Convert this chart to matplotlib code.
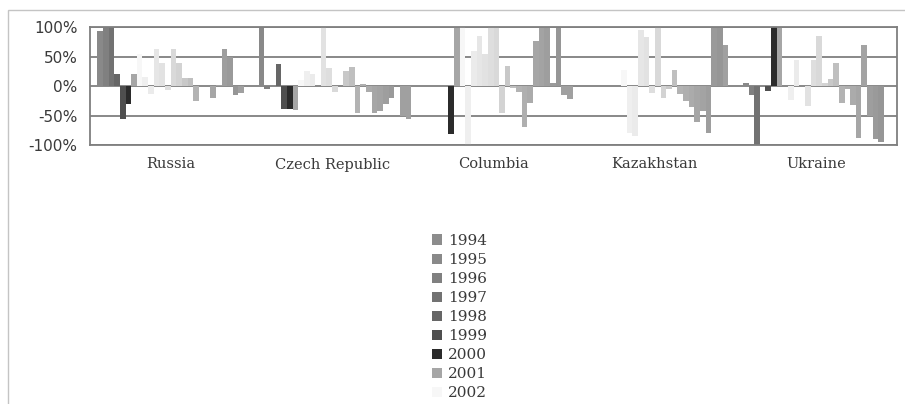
import numpy as np
import matplotlib
matplotlib.use("Agg")
import matplotlib.pyplot as plt
from matplotlib.patches import Rectangle, Patch

# ---------------- data ----------------
countries = ["Russia", "Czech Republic", "Columbia", "Kazakhstan", "Ukraine"]
years = ["1994", "1995", "1996", "1997", "1998", "1999", "2000", "2001", "2002",
         "2003", "2004", "2005", "2006", "2007", "2008", "2009", "2010", "2011",
         "2012", "2013", "2014", "2015", "2016", "2017", "2018", "2019", "2020", "2021"]

# values in percent, one per year (same order as `years`)
russia     = [0, 93, 100, 100, 20, -55, -30, 20, 55, 15, -14, 63, 40, -6, 63, 40,
              14, 14, -25, 0, 0, -20, 2, 63, 50, -15, -12, 0]
czech      = [0, 100, -5, 0, 37, -38, -38, -40, 10, 25, 20, 0, 100, 30, -10, 0,
              25, 33, -45, 3, -10, -45, -42, -30, -20, 0, -50, -55]
columbia   = [0, 0, 0, 0, 0, 0, -82, 100, 100, -100, 60, 85, 55, 100, 100, -45,
              35, -3, -10, -70, -28, 76, 100, 100, 5, 100, -15, -22]
kazakhstan = [0, 0, 0, 0, 0, 0, 0, 0, 28, -80, -85, 95, 84, -11, 100, -20,
              -5, 28, -14, -25, -35, -61, -42, -80, 100, 100, 70, 0]
ukraine    = [0, 5, -15, -100, 0, -8, 100, 100, 0, -23, 45, 0, -34, 45, 85, 5,
              12, 40, -28, -5, -32, -88, 70, -50, -90, -95, 0, 0]

# legend entries visible in the reference (the rest falls below the picture)
legend_years = years[:9]

# ---------------- style ----------------
colors = ["#8c8c8c", "#898989", "#808080", "#727272", "#666666", "#4f4f4f", "#2b2b2b",
          "#a6a6a6", "#f7f7f7", "#efefef", "#ebebeb", "#e6e6e6", "#e2e2e2", "#dedede",
          "#d9d9d9", "#d3d3d3", "#c8c8c8", "#bfbfbf", "#b3b3b3", "#afafaf", "#ababab",
          "#a6a6a6", "#a3a3a3", "#9e9e9e", "#9a9a9a", "#969696", "#a0a0a0", "#a0a0a0"]

W, H = 905, 404
fig = plt.figure(figsize=(W / 100, H / 100), dpi=100)
fig.patch.set_facecolor("white")

# chart-area border (light grey), cut off at right and bottom
fig.patches.append(Rectangle((8 / W, -0.2), 1.2, 1.2 - 10 / H,
                             transform=fig.transFigure, fill=False,
                             edgecolor="#c4c4c4", linewidth=1.0, clip_on=False))

ax = fig.add_axes([90 / W, 1 - 145 / H, 807 / W, (145 - 27.3) / H])

data = np.array([russia, czech, columbia, kazakhstan, ukraine], dtype=float) / 100.0
n_series = len(years)
x = np.arange(len(countries))
bw = 0.98 / n_series

grid_c = "#7f7f7f"
for yv in [-1, -0.5, 0, 0.5, 1]:
    ax.axhline(yv, color=grid_c, linewidth=1.3, zorder=1)

handles = []
for i in range(n_series):
    ax.bar(x + (i - (n_series - 1) / 2) * bw, data[:, i], width=bw,
           color=colors[i], linewidth=0, zorder=2)
    handles.append(Patch(facecolor=colors[i], edgecolor="none"))

ax.set_xlim(-0.5, len(countries) - 0.5)
ax.set_ylim(-1, 1)
ax.set_yticks([-1, -0.5, 0, 0.5, 1])
ax.set_yticklabels(["-100%", "-50%", "0%", "50%", "100%"])
ax.set_xticks(x)
ax.set_xticklabels(countries, family="DejaVu Serif", fontsize=10.5, color="#3a3a3a")
ax.tick_params(axis="y", length=0, pad=9, labelsize=11, labelcolor="#3a3a3a")
ax.tick_params(axis="x", length=0, pad=9)
for s in ax.spines.values():
    s.set_color(grid_c)
    s.set_linewidth(1.3)

n_leg = len(legend_years)
fig.legend(handles[:n_leg], legend_years, loc="upper left",
           bbox_to_anchor=(432 / W, 1 - 234 / H),
           frameon=False, borderpad=0, borderaxespad=0,
           handlelength=0.66, handleheight=0.66, handletextpad=0.4,
           labelspacing=0.33, prop={"family": "DejaVu Serif", "size": 11},
           labelcolor="#3a3a3a")

fig.savefig("out.png", dpi=100)
